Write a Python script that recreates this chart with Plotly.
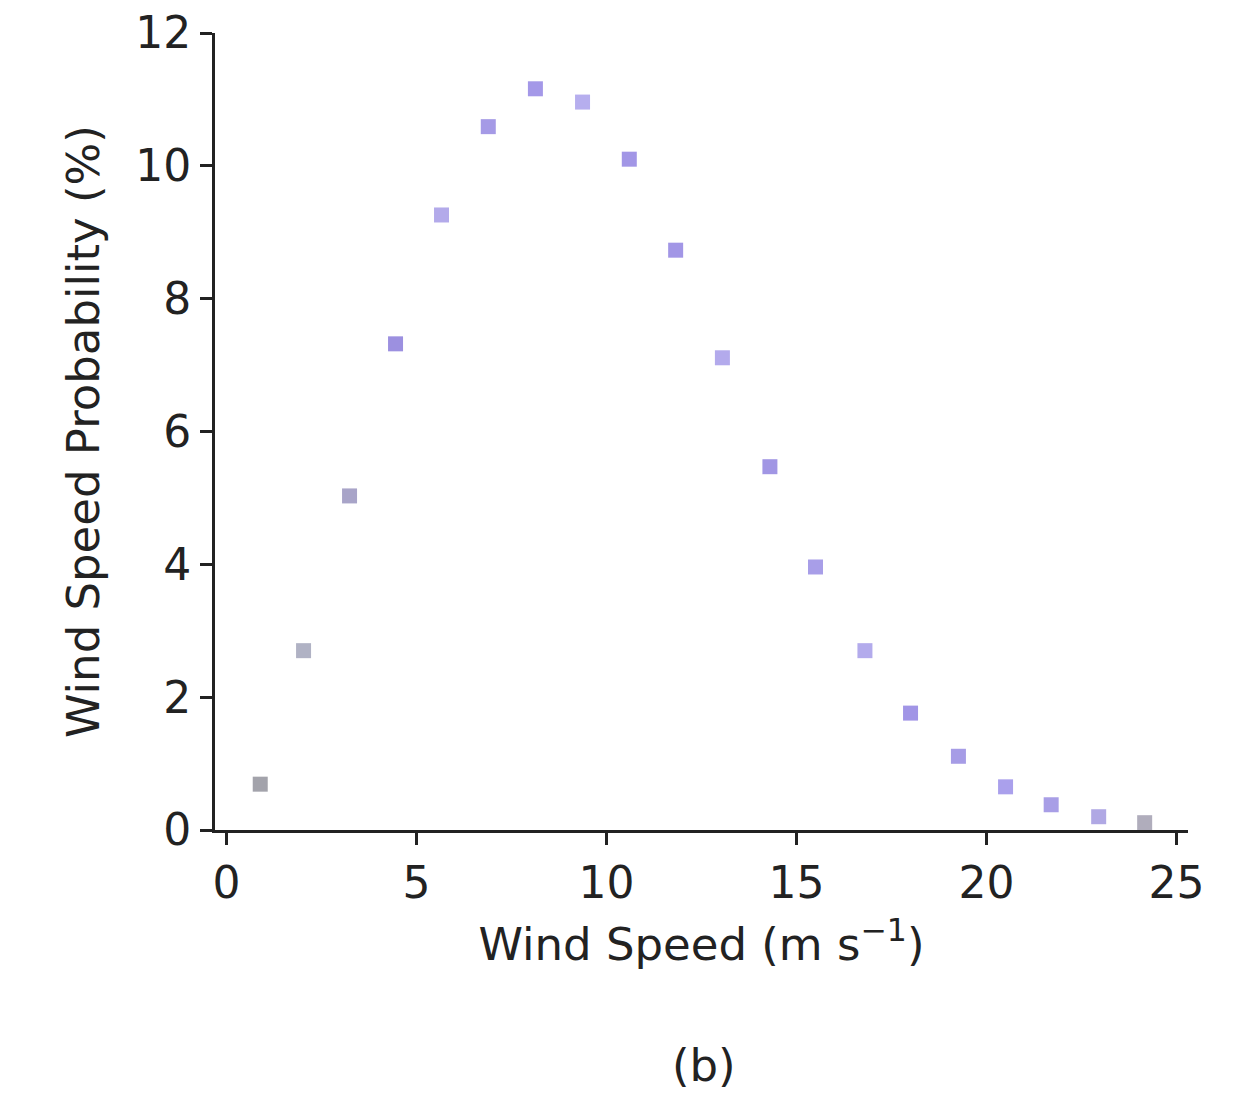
import plotly.graph_objects as go

wind_speed = [0.89, 2.03, 3.24, 4.45, 5.66, 6.89, 8.13, 9.37, 10.6, 11.82,
              13.05, 14.3, 15.5, 16.8, 18.0, 19.26, 20.5, 21.7, 22.95, 24.16]
probability = [0.69, 2.70, 5.03, 7.32, 9.26, 10.59, 11.16, 10.96, 10.10, 8.73,
               7.11, 5.47, 3.96, 2.70, 1.76, 1.11, 0.65, 0.38, 0.20, 0.11]
marker_colors = ["#a3a3ab", "#b0b2c4", "#a8a4c8", "#9c90e0", "#b3aaea", "#a59ae6",
                 "#a498e8", "#b6aeee", "#a296e6", "#a296e6", "#b3aaec", "#a196e4",
                 "#a89ee8", "#b3abec", "#a195e6", "#a69ce6", "#aaa0ec", "#a89ee6",
                 "#b0a8e4", "#b0adbc"]

x_ticks = [0, 5, 10, 15, 20, 25]
y_ticks = [0, 2, 4, 6, 8, 10, 12]

font_family = "DejaVu Sans, sans-serif"

fig = go.Figure()
fig.add_trace(go.Scatter(
    x=wind_speed, y=probability, mode="markers",
    marker=dict(symbol="square", size=15, color=marker_colors, line=dict(width=0)),
    showlegend=False,
))

fig.update_layout(
    width=1244, height=1099,
    margin=dict(l=215, r=56, t=33, b=269),
    paper_bgcolor="white", plot_bgcolor="white",
    font=dict(family=font_family, size=44, color="#222222"),
)
fig.update_xaxes(
    range=[-0.3, 25.3], tickvals=x_ticks, showgrid=False, zeroline=False,
    showline=True, linecolor="#222222", linewidth=3, automargin=False,
    ticks="outside", ticklen=12, tickwidth=3, tickcolor="#222222",
    tickfont=dict(size=44),
    title=dict(text="Wind Speed (m s<sup>−1</sup>)", font=dict(size=45), standoff=22),
)
fig.update_yaxes(
    range=[0, 12], tickvals=y_ticks, showgrid=False, zeroline=False,
    showline=True, linecolor="#222222", linewidth=3, automargin=False,
    ticks="outside", ticklen=12, tickwidth=3, tickcolor="#222222",
    tickfont=dict(size=44),
    title=dict(text="Wind Speed Probability (%)", font=dict(size=45), standoff=22),
)
fig.add_annotation(
    text="(b)", xref="paper", yref="paper", x=0.503, y=-0.295,
    showarrow=False, font=dict(size=45, color="#222222"),
    xanchor="center", yanchor="middle",
)

fig.write_html("out.html")
